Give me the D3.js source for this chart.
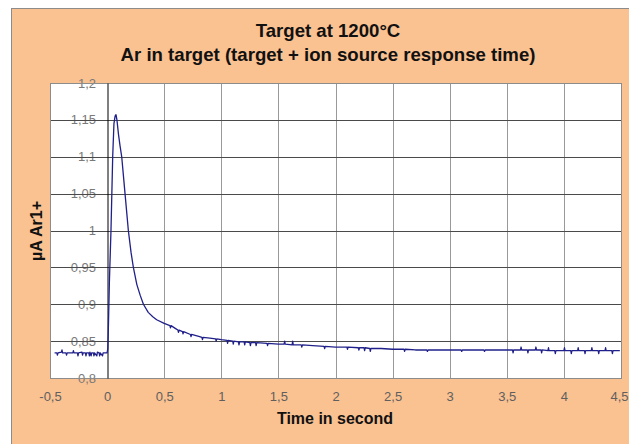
<!DOCTYPE html>
<html>
<head>
<meta charset="utf-8">
<script src="https://cdn.jsdelivr.net/npm/d3@7"></script>
<style>
   html, body { margin: 0; padding: 0; background: #fff; }
   text { font-family: "Liberation Sans", Arial, sans-serif; }
</style>
</head>
<body>
<div class="chart"></div>
<script>
// chart values (time in s, current in µA)
const titleLines = ["Target at 1200°C", "Ar in target (target + ion source response time)"];
const xTicks = [-0.5, 0, 0.5, 1, 1.5, 2, 2.5, 3, 3.5, 4, 4.5];
const yTicks = [0.8, 0.85, 0.9, 0.95, 1, 1.05, 1.1, 1.15, 1.2];
const time = [
   -0.46, -0.44, -0.435, -0.43, -0.4, -0.395, -0.39, -0.36, -0.355, -0.35,
   -0.3, -0.295, -0.29, -0.26, -0.255, -0.25, -0.22, -0.215, -0.21, -0.19,
   -0.185, -0.18, -0.16, -0.155, -0.15, -0.14, -0.135, -0.12, -0.115, -0.11,
   -0.09, -0.085, -0.07, -0.065, -0.06, -0.04, -0.035, -0.02, 0,
   0.006, 0.01, 0.02, 0.034, 0.049, 0.06, 0.07, 0.078, 0.086, 0.1,
   0.113, 0.128, 0.157, 0.186, 0.21, 0.23, 0.26, 0.29, 0.318, 0.36,
   0.4, 0.434, 0.5, 0.55, 0.555, 0.56, 0.6, 0.62, 0.625, 0.63,
   0.66, 0.665, 0.67, 0.73, 0.735, 0.74, 0.81, 0.83, 0.835, 0.84,
   0.9, 0.95, 0.955, 0.96, 1, 1.05, 1.055, 1.06, 1.1, 1.105,
   1.11, 1.15, 1.155, 1.16, 1.2, 1.205, 1.21, 1.25, 1.255, 1.26,
   1.3, 1.305, 1.31, 1.4, 1.405, 1.41, 1.5, 1.55, 1.555, 1.56,
   1.62, 1.625, 1.63, 1.7, 1.705, 1.71, 1.8, 1.9, 1.905, 1.91,
   2, 2.1, 2.105, 2.11, 2.2, 2.205, 2.21, 2.25, 2.255, 2.26,
   2.3, 2.305, 2.31, 2.4, 2.5, 2.6, 2.605, 2.61, 2.7, 2.8,
   2.805, 2.81, 2.9, 3, 3.1, 3.105, 3.11, 3.2, 3.3, 3.305,
   3.31, 3.4, 3.5, 3.55, 3.555, 3.56, 3.62, 3.625, 3.63, 3.68,
   3.685, 3.69, 3.75, 3.755, 3.76, 3.8, 3.805, 3.81, 3.86, 3.865,
   3.87, 3.92, 3.925, 3.93, 4, 4.005, 4.01, 4.06, 4.065, 4.07,
   4.12, 4.125, 4.13, 4.18, 4.185, 4.19, 4.24, 4.245, 4.25, 4.3,
   4.305, 4.31, 4.36, 4.365, 4.37, 4.42, 4.425, 4.43, 4.49
];
const current = [
   0.834, 0.834, 0.831, 0.834, 0.835, 0.838, 0.834, 0.834, 0.831, 0.834,
   0.834, 0.837, 0.834, 0.834, 0.830, 0.834, 0.835, 0.831, 0.834, 0.834,
   0.830, 0.834, 0.834, 0.830, 0.835, 0.830, 0.834, 0.834, 0.830, 0.834,
   0.830, 0.835, 0.834, 0.830, 0.834, 0.830, 0.834, 0.834, 0.834,
   0.840, 0.860, 0.930, 1.000, 1.100, 1.145, 1.155, 1.157, 1.150, 1.130,
   1.115, 1.100, 1.050, 1.000, 0.970, 0.950, 0.927, 0.912, 0.900, 0.889,
   0.883, 0.879, 0.874, 0.871, 0.868, 0.871, 0.867, 0.865, 0.862, 0.865,
   0.863, 0.860, 0.863, 0.859, 0.856, 0.859, 0.856, 0.855, 0.852, 0.855,
   0.854, 0.853, 0.850, 0.853, 0.852, 0.851, 0.847, 0.851, 0.850, 0.846,
   0.850, 0.849, 0.845, 0.849, 0.849, 0.845, 0.849, 0.848, 0.844, 0.848,
   0.848, 0.844, 0.848, 0.847, 0.844, 0.847, 0.846, 0.846, 0.850, 0.846,
   0.845, 0.850, 0.845, 0.845, 0.842, 0.845, 0.844, 0.843, 0.840, 0.843,
   0.842, 0.842, 0.839, 0.842, 0.841, 0.838, 0.841, 0.841, 0.837, 0.841,
   0.840, 0.836, 0.840, 0.840, 0.839, 0.839, 0.836, 0.839, 0.838, 0.838,
   0.836, 0.838, 0.838, 0.838, 0.838, 0.836, 0.838, 0.838, 0.838, 0.836,
   0.838, 0.838, 0.838, 0.838, 0.834, 0.838, 0.838, 0.842, 0.838, 0.838,
   0.834, 0.838, 0.838, 0.842, 0.838, 0.838, 0.834, 0.838, 0.837, 0.841,
   0.837, 0.837, 0.833, 0.837, 0.837, 0.841, 0.837, 0.837, 0.833, 0.837,
   0.837, 0.841, 0.837, 0.837, 0.833, 0.837, 0.837, 0.841, 0.837, 0.837,
   0.833, 0.837, 0.837, 0.841, 0.837, 0.837, 0.833, 0.837, 0.837
];

// setup chart
const width = 629;
const height = 444;
const plot = { left: 50, right: 621, top: 83, bottom: 378 };
const fmt = (v) => String(v).replace(".", ",");

const svg = d3
   .select(".chart")
   .append("svg")
   .attr("width", width)
   .attr("height", height);

// chart area
svg.append("rect")
   .attr("x", 11.5)
   .attr("y", 8.5)
   .attr("width", width)
   .attr("height", height)
   .attr("fill", "#fac191")
   .attr("stroke", "#8c8c8c");

const x = d3.scaleLinear().domain([-0.5, 4.5]).range([plot.left, plot.right]);
const y = d3.scaleLinear().domain([0.8, 1.2]).range([plot.bottom, plot.top]);

// plot area
svg.append("rect")
   .attr("x", plot.left + 0.5)
   .attr("y", plot.top + 0.5)
   .attr("width", plot.right - plot.left)
   .attr("height", plot.bottom - plot.top)
   .attr("fill", "#fff");

// y tick labels (drawn under the grid, as in the original)
svg.append("g")
   .selectAll("text")
   .data(yTicks)
   .enter()
   .append("text")
   .attr("x", 96)
   .attr("y", (d) => y(d) + 4.5)
   .attr("text-anchor", "end")
   .attr("font-size", 13)
   .attr("fill", "#7a7a7a")
   .text(fmt);

// grid
svg.append("g")
   .selectAll("line")
   .data(xTicks.filter((t) => t !== 0 && t !== -0.5 && t !== 4.5))
   .enter()
   .append("line")
   .attr("x1", (d) => Math.round(x(d)) + 0.5)
   .attr("x2", (d) => Math.round(x(d)) + 0.5)
   .attr("y1", plot.top)
   .attr("y2", plot.bottom)
   .attr("stroke", "#999");

svg.append("g")
   .selectAll("line")
   .data(yTicks.slice(1, -1))
   .enter()
   .append("line")
   .attr("x1", plot.left)
   .attr("x2", plot.right)
   .attr("y1", (d) => Math.round(y(d)) + 0.5)
   .attr("y2", (d) => Math.round(y(d)) + 0.5)
   .attr("stroke", "#4a4a4a");

// plot border
svg.append("rect")
   .attr("x", plot.left + 0.5)
   .attr("y", plot.top + 0.5)
   .attr("width", plot.right - plot.left)
   .attr("height", plot.bottom - plot.top)
   .attr("fill", "none")
   .attr("stroke", "#8c8c8c");

// y axis crossing at t = 0
const yAxis = d3.axisLeft(y).tickValues([]).tickSize(0);
svg.append("g")
   .attr("id", "y-axis")
   .attr("transform", `translate(${Math.round(x(0)) + 0.5},0)`)
   .call(yAxis)
   .select(".domain")
   .attr("stroke", "#000");

// x tick labels
const xAxis = d3.axisBottom(x).tickValues(xTicks).tickFormat(fmt).tickSize(0).tickPadding(14);
const gx = svg.append("g")
   .attr("id", "x-axis")
   .attr("transform", `translate(0,${plot.bottom})`)
   .call(xAxis);
gx.select(".domain").remove();
gx.selectAll("text")
   .attr("font-size", 13)
   .attr("font-family", "Liberation Sans, Arial, sans-serif")
   .attr("fill", "#5f5f5f")
   .attr("dx", (d) => (d === 4.5 ? -2 : 0));

// trace
const line = d3.line()
   .x((d, i) => x(time[i]))
   .y((d) => y(d));

svg.append("path")
   .datum(current)
   .attr("d", line)
   .attr("fill", "none")
   .attr("stroke", "#20208a")
   .attr("stroke-width", 1.3)
   .attr("stroke-linejoin", "round");

// titles
svg.append("g")
   .selectAll("text")
   .data(titleLines)
   .enter()
   .append("text")
   .attr("x", 328)
   .attr("y", (d, i) => 36.5 + i * 24)
   .attr("text-anchor", "middle")
   .attr("font-size", 18.6)
   .attr("font-weight", "bold")
   .attr("fill", "#111")
   .text((d) => d);

svg.append("text")
   .attr("x", 335)
   .attr("y", 424)
   .attr("text-anchor", "middle")
   .attr("font-size", 16)
   .attr("font-weight", "bold")
   .attr("fill", "#111")
   .text("Time in second");

svg.append("text")
   .attr("transform", "translate(42,231) rotate(-90)")
   .attr("text-anchor", "middle")
   .attr("font-size", 16)
   .attr("font-weight", "bold")
   .attr("fill", "#111")
   .text("µA Ar1+");
</script>
</body>
</html>
